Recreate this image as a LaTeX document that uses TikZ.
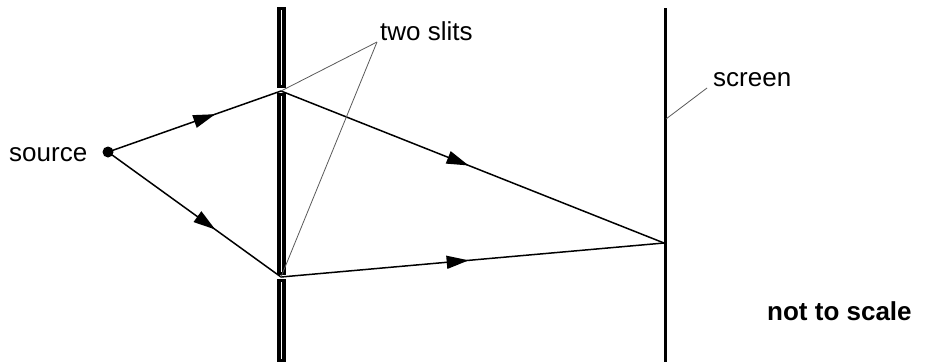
\documentclass[tikz,border=0pt]{standalone}
\usepackage{fontspec}
\setmainfont{Liberation Sans}
\usetikzlibrary{arrows.meta,decorations.markings}
\tikzset{
  ray/.style={line width=1.5pt, black},
  leader/.style={line width=0.8pt, black!65},
  midarrow/.style={postaction={decorate,decoration={markings,
     mark=at position #1 with {\arrow{Triangle[length=22pt,width=13pt]}}}}},
  lbl/.style={font=\fontsize{26}{30}\selectfont, inner sep=0pt, anchor=base west},
}
\begin{document}
\begin{tikzpicture}[x=1pt,y=-1pt]
\useasboundingbox (0,0) rectangle (926,362);
% barrier
\fill[black] (276.5,7) rectangle (285.5,88);
\fill[black] (276.5,93) rectangle (285.5,275);
\fill[black] (276.5,279) rectangle (285.5,362);
\draw[white, line width=0.7pt] (281,10) -- (281,85);
\draw[white, line width=0.7pt] (281,96) -- (281,272);
\draw[white, line width=0.7pt] (281,282) -- (281,359);
% screen
\draw[line width=3pt] (665,8) -- (665,362);
% points
\node[circle, fill=black, inner sep=0pt, minimum size=11pt] (src) at (108,152) {};
\coordinate (s1) at (281,91);
\coordinate (s2) at (281,277);
\coordinate (p) at (664,243);
% rays
\draw[ray, midarrow=0.62] (src.center) -- (s1);
\draw[ray, midarrow=0.62] (src.center) -- (s2);
\draw[ray, midarrow=0.49] (s1) -- (p);
\draw[ray, midarrow=0.49] (s2) -- (p);
% labels
\node[lbl] (source) at (9,161) {source};
\node[lbl] (slits) at (380,40) {two slits};
\node[lbl] (screen) at (713,86) {screen};
\node[lbl, font=\fontsize{26}{30}\selectfont\bfseries] (nts) at (767,320) {not to scale};
% leaders
\coordinate (lt) at (377,42);
\coordinate (ls) at (707,88);
\coordinate (lsp) at (666,119);
\draw[leader] (lt) -- (s1);
\draw[leader] (lt) -- (s2);
\draw[leader] (ls) -- (lsp);
\end{tikzpicture}
\end{document}
